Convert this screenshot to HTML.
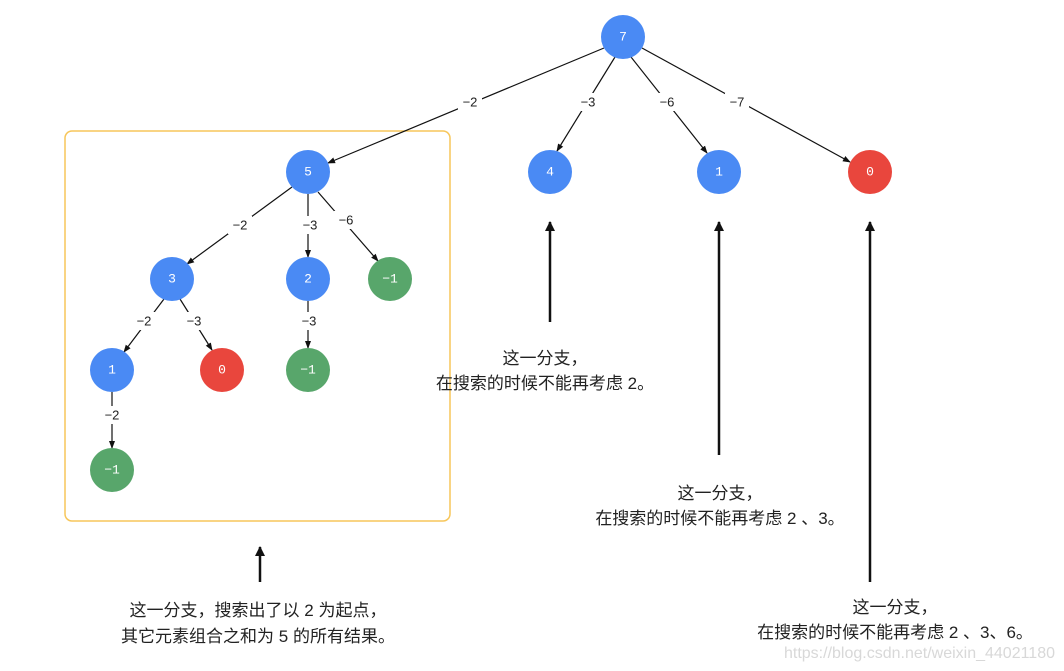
<!DOCTYPE html>
<html><head><meta charset="utf-8"><style>
html,body{margin:0;padding:0;background:#fff;width:1064px;height:671px;overflow:hidden}
svg{display:block}
.n{font-family:"Liberation Mono",monospace;font-size:13px;fill:#fff;text-anchor:middle;dominant-baseline:central}
.l{font-family:"Liberation Sans",sans-serif;font-size:13px;fill:#222;text-anchor:middle;dominant-baseline:central}
.t{font-family:"Liberation Sans","Noto Sans CJK SC",sans-serif;font-size:17px;fill:#222;text-anchor:middle}
</style></head><body>
<svg width="1064" height="671" viewBox="0 0 1064 671">
<defs>
<marker id="a" markerWidth="8" markerHeight="8" refX="7" refY="4" orient="auto" markerUnits="userSpaceOnUse"><path d="M0,1 L8,4 L0,7 Z" fill="#111"/></marker>
<marker id="b" markerWidth="10" markerHeight="12" refX="9" refY="5" orient="auto" markerUnits="userSpaceOnUse"><path d="M0,0 L10,5 L0,10 Z" fill="#111"/></marker>
</defs>
<rect x="65" y="131" width="385" height="390" rx="7" fill="none" stroke="#f7c65a" stroke-width="1.5"/>
<g stroke="#111" stroke-width="1.2" fill="none" marker-end="url(#a)">
<line x1="604" y1="48" x2="328" y2="163"/>
<line x1="615" y1="57" x2="557" y2="151"/>
<line x1="631" y1="57" x2="707" y2="153"/>
<line x1="642" y1="48" x2="850" y2="162"/>
<line x1="292" y1="187" x2="187" y2="264"/>
<line x1="308" y1="194" x2="308" y2="257"/>
<line x1="318" y1="192" x2="378" y2="261"/>
<line x1="164" y1="299" x2="124" y2="352"/>
<line x1="180" y1="299" x2="212" y2="350"/>
<line x1="308" y1="301" x2="308" y2="348"/>
<line x1="112" y1="392" x2="112" y2="448"/>
</g>
<g fill="#fff">
<rect x="458" y="93" width="24" height="18"/><rect x="576" y="93" width="24" height="18"/>
<rect x="655" y="93" width="24" height="18"/><rect x="725" y="93" width="24" height="18"/>
<rect x="228" y="216" width="24" height="18"/><rect x="298" y="216" width="24" height="18"/>
<rect x="334" y="211" width="24" height="18"/><rect x="132" y="312" width="24" height="18"/>
<rect x="182" y="312" width="24" height="18"/><rect x="297" y="312" width="24" height="18"/>
<rect x="100" y="406" width="24" height="18"/>
</g>
<text class="l" x="470" y="102">−2</text><text class="l" x="588" y="102">−3</text>
<text class="l" x="667" y="102">−6</text><text class="l" x="737" y="102">−7</text>
<text class="l" x="240" y="225">−2</text><text class="l" x="310" y="225">−3</text>
<text class="l" x="346" y="220">−6</text><text class="l" x="144" y="321">−2</text>
<text class="l" x="194" y="321">−3</text><text class="l" x="309" y="321">−3</text>
<text class="l" x="112" y="415">−2</text>
<g>
<circle cx="623" cy="37" r="22" fill="#4a8af4"/><text class="n" x="623" y="37">7</text>
<circle cx="308" cy="172" r="22" fill="#4a8af4"/><text class="n" x="308" y="172">5</text>
<circle cx="550" cy="172" r="22" fill="#4a8af4"/><text class="n" x="550" y="172">4</text>
<circle cx="719" cy="172" r="22" fill="#4a8af4"/><text class="n" x="719" y="172">1</text>
<circle cx="870" cy="172" r="22" fill="#e9463d"/><text class="n" x="870" y="172">0</text>
<circle cx="172" cy="279" r="22" fill="#4a8af4"/><text class="n" x="172" y="279">3</text>
<circle cx="308" cy="279" r="22" fill="#4a8af4"/><text class="n" x="308" y="279">2</text>
<circle cx="390" cy="279" r="22" fill="#58a66b"/><text class="n" x="390" y="279">−1</text>
<circle cx="112" cy="370" r="22" fill="#4a8af4"/><text class="n" x="112" y="370">1</text>
<circle cx="222" cy="370" r="22" fill="#e9463d"/><text class="n" x="222" y="370">0</text>
<circle cx="308" cy="370" r="22" fill="#58a66b"/><text class="n" x="308" y="370">−1</text>
<circle cx="112" cy="470" r="22" fill="#58a66b"/><text class="n" x="112" y="470">−1</text>
</g>
<g stroke="#111" stroke-width="2.5" marker-end="url(#b)">
<line x1="550" y1="322" x2="550" y2="222"/>
<line x1="719" y1="455" x2="719" y2="222"/>
<line x1="870" y1="582" x2="870" y2="222"/>
<line x1="260" y1="582" x2="260" y2="547"/>
</g>
<text class="t" x="545" y="364">这一分支，</text>
<text class="t" x="545" y="389">在搜索的时候不能再考虑 2。</text>
<text class="t" x="720" y="499">这一分支，</text>
<text class="t" x="720" y="524">在搜索的时候不能再考虑 2 、3。</text>
<text class="t" x="895" y="613">这一分支，</text>
<text class="t" x="895" y="638">在搜索的时候不能再考虑 2 、3、6。</text>
<text class="t" x="258" y="616">这一分支，搜索出了以 2 为起点，</text>
<text class="t" x="258" y="642">其它元素组合之和为 5 的所有结果。</text>
<text x="1055" y="658" font-family="Liberation Sans,sans-serif" font-size="16" fill="#d8d8d8" text-anchor="end">https://blog.csdn.net/weixin_44021180</text>
</svg>
</body></html>
